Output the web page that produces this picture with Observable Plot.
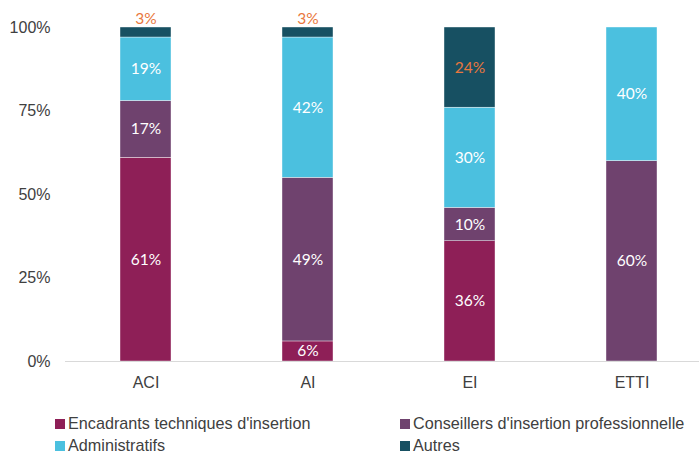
<!DOCTYPE html>
<html>
<head>
<meta charset="utf-8">
<script src="https://cdn.jsdelivr.net/npm/d3@7"></script>
<script src="https://cdn.jsdelivr.net/npm/@observablehq/plot@0.6"></script>
<style>
  html, body { margin: 0; padding: 0; background: #fff; }
  #wrap { position: relative; width: 699px; height: 455px; overflow: hidden; font-family: "Liberation Sans", Arial, sans-serif; color: #404040; }
  .leg { position: absolute; font-size: 16.2px; line-height: 13px; white-space: nowrap; display: flex; align-items: center; }
  .sw { width: 10px; height: 10px; margin-right: 3px; display: inline-block; }
</style>
</head>
<body>
<div id="wrap"></div>
<script>
const categories = ["ACI", "AI", "EI", "ETTI"];
const series = ["Encadrants techniques d'insertion", "Conseillers d'insertion professionnelle", "Administratifs", "Autres"];
const encadrants = [61, 6, 36, 0];
const conseillers = [17, 49, 10, 60];
const administratifs = [19, 42, 30, 40];
const autres = [3, 3, 24, 0];
const yTicks = [0, 25, 50, 75, 100];
const colors = ["#8E1F57", "#6F426E", "#4BC0DF", "#175062"];
const labelColors = ["#FFFFFF", "#FFFFFF", "#FFFFFF", "#E9773D"];

const valuesBySeries = [encadrants, conseillers, administratifs, autres];
const data = [];
categories.forEach((c, i) => {
  series.forEach((s, j) => {
    data.push({cat: c, series: s, value: valuesBySeries[j][i], idx: j});
  });
});
const totals = categories.map((c, i) => ({cat: c, total: d3.sum(valuesBySeries, v => v[i])}));
const smallTop = data.filter(d => d.idx === 3 && d.value > 0 && d.value < 5)
  .map(d => ({...d, top: totals.find(t => t.cat === d.cat).total}));

const chart = Plot.plot({
  width: 699,
  height: 400,
  marginLeft: 65,
  marginRight: 0,
  marginTop: 27,
  marginBottom: 39,
  style: {fontFamily: "'Liberation Sans', Arial, sans-serif", fontSize: "16px", color: "#404040", background: "white"},
  x: {type: "band", domain: categories, range: [9, 768], padding: 0.685, label: null},
  y: {domain: [0, 100], label: null},
  color: {domain: series, range: colors},
  marks: [
    Plot.barY(data, Plot.stackY({x: "cat", y: "value", z: "series", fill: "series", stroke: "white", strokeWidth: 0.4})),
    Plot.ruleY([0], {stroke: "#D9D9D9", strokeWidth: 1.2}),
    Plot.axisY({ticks: yTicks, tickFormat: d => d + "%", tickSize: 0, tickPadding: 15, label: null}),
    Plot.axisX({tickSize: 0, tickPadding: 15, label: null}),
    Plot.text(data, Plot.stackY({
      x: "cat", y: "value", z: "series",
      filter: d => d.value >= 5,
      text: d => d.value + "%",
      fill: d => labelColors[d.idx],
      fontFamily: "Lato, 'Open Sans', sans-serif",
      fontSize: 15.5
    })),
    Plot.text(smallTop, {
      x: "cat", y: "top", dy: -8,
      text: d => d.value + "%",
      fill: d => labelColors[d.idx],
      fontFamily: "Lato, 'Open Sans', sans-serif",
      fontSize: 15.5
    })
  ]
});
const wrap = document.getElementById("wrap");
wrap.appendChild(chart);

const legPos = [[55, 417], [400, 417], [55, 439], [400, 439]];
series.forEach((s, j) => {
  const d = document.createElement("div");
  d.className = "leg";
  d.style.left = legPos[j][0] + "px";
  d.style.top = legPos[j][1] + "px";
  const sw = document.createElement("span");
  sw.className = "sw";
  sw.style.background = colors[j];
  const t = document.createElement("span");
  t.textContent = s;
  d.appendChild(sw); d.appendChild(t);
  wrap.appendChild(d);
});
</script>
</body>
</html>
